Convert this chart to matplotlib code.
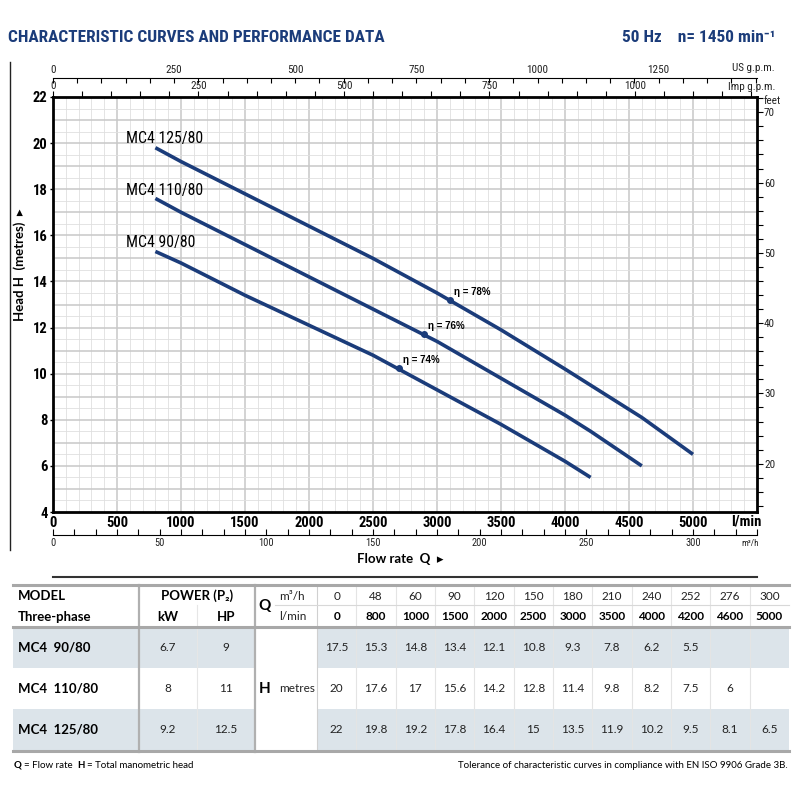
import numpy as np
import matplotlib
matplotlib.use("Agg")
import matplotlib.pyplot as plt
from matplotlib import font_manager
from matplotlib.ticker import MultipleLocator, FixedLocator
from matplotlib.patches import Rectangle
from matplotlib.lines import Line2D

NAVY = "#1b3c7a"
installed = {f.name for f in font_manager.fontManager.ttflist}
narrow_name = next((n for n in ["Liberation Sans Narrow", "Roboto Condensed",
                                "Open Sans Condensed", "Noto Sans Condensed"]
                    if n in installed), "Liberation Sans")
NARROW = [narrow_name, "DejaVu Sans"]
ARIAL = ["Liberation Sans", "DejaVu Sans"]
TAB = ["Lato", "DejaVu Sans"]

# --- data read from the sheet ---
models = ["MC4  90/80", "MC4  110/80", "MC4  125/80"]
curve_names = ["MC4 90/80", "MC4 110/80", "MC4 125/80"]
power_kw = ["6.7", "8", "9.2"]
power_hp = ["9", "11", "12.5"]
q_m3h = [0, 48, 60, 90, 120, 150, 180, 210, 240, 252, 276, 300]
q_lmin = [0, 800, 1000, 1500, 2000, 2500, 3000, 3500, 4000, 4200, 4600, 5000]
head_90 = [17.5, 15.3, 14.8, 13.4, 12.1, 10.8, 9.3, 7.8, 6.2, 5.5, None, None]
head_110 = [20, 17.6, 17, 15.6, 14.2, 12.8, 11.4, 9.8, 8.2, 7.5, 6, None]
head_125 = [22, 19.8, 19.2, 17.8, 16.4, 15, 13.5, 11.9, 10.2, 9.5, 8.1, 6.5]
heads = [head_90, head_110, head_125]
name_pos = [(570, 15.7), (570, 17.95), (570, 20.2)]
eff_q = [2700, 2900, 3100]
eff_h = [10.25, 11.7, 13.2]
eff_labels = ["η = 74%", "η = 76%", "η = 78%"]

W = H = 800.0
fig = plt.figure(figsize=(8, 8), dpi=100)


def fx(x):
    return x / W


def fy(y):
    return 1 - y / H


def ftext(x, y, s, **kw):
    fig.text(fx(x), fy(y), s, **kw)


# title
ftext(8, 37, "CHARACTERISTIC CURVES AND PERFORMANCE DATA", family=NARROW,
      weight="bold", size=12.4, color=NAVY, va="center")
ftext(776, 37, "50 Hz    n= 1450 min⁻¹", family=NARROW, weight="bold",
      size=12.4, color=NAVY, va="center", ha="right")

# main chart
ax = fig.add_axes([fx(53), fy(512), 704 / W, 415 / H])
ax.set_xlim(0, 5500)
ax.set_ylim(4, 22)
for x in np.arange(100, 5500, 100):
    major = x % 500 == 0
    ax.axvline(x, color="#c8c8c8" if major else "#dfdfdf",
               lw=1.1 if major else 0.6, zorder=0)
for y in np.arange(4.5, 22, 0.5):
    major = y % 1 == 0
    ax.axhline(y, color="#c8c8c8" if major else "#dfdfdf",
               lw=1.1 if major else 0.6, zorder=0)

for sp in ax.spines.values():
    sp.set_linewidth(2)
ax.xaxis.set_major_locator(FixedLocator(np.arange(0, 5001, 500)))
ax.yaxis.set_major_locator(MultipleLocator(2))
ax.tick_params(axis="x", length=0, pad=3)
ax.tick_params(axis="y", length=2, width=1, pad=2)
for lab in ax.get_xticklabels() + ax.get_yticklabels():
    lab.set_family(NARROW)
    lab.set_weight("bold")
    lab.set_size(10.5)

for name, h, pos in zip(curve_names, heads, name_pos):
    qs = [q for q, v in zip(q_lmin[1:], h[1:]) if v is not None]
    hs = [v for v in h[1:] if v is not None]
    ax.plot(qs, hs, color=NAVY, lw=2.6, solid_capstyle="butt", zorder=3)
    ax.text(pos[0], pos[1], name, family=NARROW, size=11.3, va="center",
            ha="left", zorder=4)

ax.plot(eff_q, eff_h, "o", color=NAVY, ms=4, zorder=4)
for q, h, s in zip(eff_q, eff_h, eff_labels):
    ax.annotate(s, (q, h), xytext=(3, 6), textcoords="offset points",
                size=7, weight="bold", family=ARIAL, va="center",
                ha="left", zorder=5)

# imp gpm axis on the frame top
imp = ax.secondary_xaxis("top", functions=(lambda x: x / 4.54609,
                                           lambda g: g * 4.54609))
imp.xaxis.set_major_locator(FixedLocator([0, 250, 500, 750, 1000]))
imp.xaxis.set_minor_locator(MultipleLocator(50))
imp.tick_params(which="both", direction="out", length=4, width=0.8,
                labelsize=8, pad=0.5, labelcolor="#222")
imp.spines["top"].set_visible(False)

# us gpm axis above
us = ax.secondary_xaxis(1 + 19 / 415, functions=(lambda x: x / 3.78541,
                                                 lambda g: g * 3.78541))
us.xaxis.set_major_locator(FixedLocator([0, 250, 500, 750, 1000, 1250]))
us.xaxis.set_minor_locator(MultipleLocator(50))
us.tick_params(which="both", direction="in", length=3.5, width=0.8,
               labelsize=8, pad=2, labelcolor="#222")
us.spines["top"].set_linewidth(0.8)

# m3/h axis below
m3 = ax.secondary_xaxis(-23 / 415, functions=(lambda x: x * 0.06,
                                              lambda m: m / 0.06))
m3.xaxis.set_major_locator(FixedLocator([0, 50, 100, 150, 200, 250, 300]))
m3.xaxis.set_minor_locator(MultipleLocator(10))
m3.tick_params(which="both", direction="in", length=4, width=0.8,
               labelsize=7.5, pad=2, labelcolor="#222")
m3.spines["bottom"].set_linewidth(0.8)

# feet axis on the right
ft = ax.secondary_yaxis("right", functions=(lambda m: m * 3.28084,
                                            lambda f: f / 3.28084))
ft.yaxis.set_major_locator(FixedLocator([20, 30, 40, 50, 60, 70]))
ft.yaxis.set_minor_locator(MultipleLocator(2))
ft.tick_params(which="both", direction="out", length=4, width=0.8,
               labelsize=8, pad=1, labelcolor="#222")
ft.spines["right"].set_visible(False)

for t in (imp, us, m3, ft):
    for lab in t.get_xticklabels() + t.get_yticklabels():
        lab.set_family(NARROW)

ftext(775, 68, "US g.p.m.", family=NARROW, size=8, ha="right", va="center",
      color="#222")
ftext(775, 87, "Imp g.p.m.", family=NARROW, size=8, ha="right",
      va="center", color="#222")
ftext(764, 101, "feet", family=NARROW, size=8, ha="left", va="center",
      color="#222")
ftext(761, 521, "l/min", family=NARROW, size=10.5, weight="bold",
      ha="right", va="center")
ftext(759, 543, "m³/h", family=NARROW, size=6.5, ha="right", va="center",
      color="#222")
ftext(20, 265, "Head H  (metres)  ▸", family=TAB, size=9.5, weight="bold",
      rotation=90, ha="center", va="center")
ftext(400, 559, "Flow rate  Q  ▸", family=TAB, size=9.5, weight="bold",
      ha="center", va="center")
fig.add_artist(Line2D([fx(10), fx(10)], [fy(62), fy(550)], color="#222",
                      lw=1))
fig.add_artist(Line2D([fx(53), fx(757)], [fy(577), fy(577)], color="#333",
                      lw=1.5))

# --- performance table ---
tl, tr = 13, 789
c_model, c_kw, c_hp, c_q = 139, 197, 255, 317
cw = (tr - c_q) / len(q_lmin)
row_top = [627, 668, 709]
row_h = 41
shade = "#dce4ea"
for i in (0, 2):
    y0 = row_top[i]
    fig.add_artist(Rectangle((fx(tl), fy(y0 + row_h)), (c_hp - tl) / W,
                             row_h / H, color=shade, lw=0))
    fig.add_artist(Rectangle((fx(c_q), fy(y0 + row_h)), (tr - c_q) / W,
                             row_h / H, color=shade, lw=0))


def hline(y, x0, x1, color, lw):
    fig.add_artist(Line2D([fx(x0), fx(x1)], [fy(y), fy(y)], color=color,
                          lw=lw))


def vline(x, y0, y1, color, lw):
    fig.add_artist(Line2D([fx(x), fx(x)], [fy(y0), fy(y1)], color=color,
                          lw=lw))


vline(c_kw, 605, 750, "#e6e6e6", 0.8)
vline(c_q, 585, 750, "#d0d0d0", 0.8)
for j in range(1, len(q_lmin)):
    vline(c_q + j * cw, 585, 750, "#e4e4e4", 0.8)
hline(605, 275, tr, "#d8d8d8", 0.8)
vline(c_model, 585, 752, "#b0b0b0", 1.6)
vline(c_hp, 585, 752, "#b0b0b0", 1.6)
hline(585, tl, tr, "#a8a8a8", 2.2)
hline(627, tl, tr, "#a8a8a8", 2.2)
hline(751, tl, tr, "#a8a8a8", 2.2)

ftext(18, 596, "MODEL", family=TAB, size=9.5, weight="bold", va="center")
ftext(18, 617, "Three-phase", family=TAB, size=9.5, weight="bold",
      va="center")
ftext(197, 596, "POWER (P₂)", family=TAB, size=9.5, weight="bold",
      va="center", ha="center")
ftext(168, 617, "kW", family=TAB, size=9.5, weight="bold", va="center",
      ha="center")
ftext(226, 617, "HP", family=TAB, size=9.5, weight="bold", va="center",
      ha="center")
ftext(265, 606, "Q", family=TAB, size=11, weight="bold", va="center",
      ha="center")
ftext(279, 596, "m³/h", family=TAB, size=8.5, va="center", color="#222")
ftext(279, 617, "l/min", family=TAB, size=8.5, va="center", color="#222")
for j, (a, b) in enumerate(zip(q_m3h, q_lmin)):
    cx = c_q + (j + 0.5) * cw
    ftext(cx, 596, str(a), family=TAB, size=8.5, va="center", ha="center",
          color="#222")
    ftext(cx, 617, str(b), family=TAB, size=8.5, weight="bold", va="center",
          ha="center")

ftext(265, 689, "H", family=TAB, size=11, weight="bold", va="center",
      ha="center")
ftext(279, 689, "metres", family=TAB, size=8.5, va="center", color="#222")
for i in range(3):
    cy = row_top[i] + row_h / 2
    ftext(18, cy, models[i], family=TAB, size=9.5, weight="bold",
          va="center")
    ftext(168, cy, power_kw[i], family=TAB, size=8.5, va="center",
          ha="center", color="#222")
    ftext(226, cy, power_hp[i], family=TAB, size=8.5, va="center",
          ha="center", color="#222")
    for j, v in enumerate(heads[i]):
        if v is None:
            continue
        ftext(c_q + (j + 0.5) * cw, cy, f"{v:g}", family=TAB, size=8.5,
              va="center", ha="center", color="#222")

ftext(14, 765, "Q", family=TAB, size=7, weight="bold", va="center")
ftext(24, 765, "= Flow rate", family=TAB, size=7, va="center")
ftext(77, 765, "H", family=TAB, size=7, weight="bold", va="center")
ftext(87, 765, "= Total manometric head", family=TAB, size=7, va="center")
ftext(788, 765, "Tolerance of characteristic curves in compliance with "
      "EN ISO 9906 Grade 3B.", family=TAB, size=7, va="center", ha="right")

fig.savefig("out.png", dpi=100)
